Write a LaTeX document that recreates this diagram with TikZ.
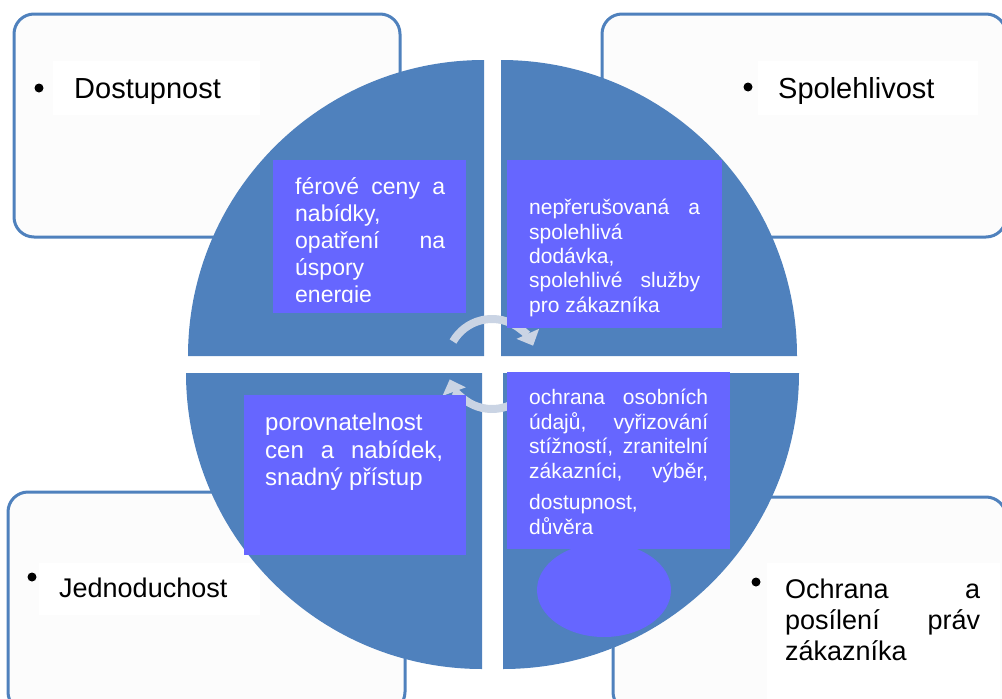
\documentclass[tikz,border=0pt]{standalone}
\usepackage{fontspec}
\setmainfont{Liberation Sans}
\usepackage{xcolor}
\usetikzlibrary{arrows.meta}
\definecolor{quadblue}{HTML}{4F81BD}
\definecolor{boxviolet}{HTML}{6666FF}
\definecolor{ringgrey}{HTML}{CAD4E4}
\definecolor{paper}{HTML}{FCFCFC}

\begin{document}
\begin{tikzpicture}[x=1pt, y=1pt,
    frame/.style={draw=quadblue, line width=3pt, fill=paper, rounded corners=20pt},
    tag/.style={fill=white},
    dot/.style={circle, fill=black, inner sep=0pt, minimum size=9pt},
    head/.style={anchor=base west, inner sep=0pt, font=\fontsize{29}{34}\selectfont},
    vtext/.style={anchor=north west, inner sep=0pt, text=white, align=justify},
    ring/.style={draw=ringgrey, line width=8pt, -{Triangle[width=24pt,length=13pt]}}]
    \useasboundingbox (0,0) rectangle (1002,-699);

    % frames behind the disc
    \draw[frame] (14,-14) rectangle (400,-237);
    \draw[frame] (602,-14) rectangle (1006,-237);
    \draw[frame] (8,-492) rectangle (405,-712);
    \draw[frame] (613,-497) rectangle (1006,-712);

    % headings
    \fill[tag] (53,-61) rectangle (260,-115);
    \node[dot] (dotA) at (39,-88) {};
    \node[head] (dostupnost) at (74,-98) {Dostupnost};
    \fill[tag] (758,-61) rectangle (978,-115);
    \node[dot] (dotB) at (748,-87) {};
    \node[head] (spolehlivost) at (778,-98) {Spolehlivost};
    \fill[tag] (39,-563) rectangle (260,-615);
    \node[dot] (dotC) at (32,-577) {};
    \node[head, font=\fontsize{27}{31}\selectfont] (jednoduchost) at (59,-597) {Jednoduchost};
    \fill[tag] (767,-563) rectangle (1000,-699);
    \node[dot] (dotD) at (756,-582) {};
    \node[anchor=north west, inner sep=0pt, align=justify, text width=195pt,
      font=\fontsize{27}{31}\selectfont] (ochrana) at (785,-579)
      {Ochrana\hfill a\\ posílení\hfill práv\\ zákazníka};

    % the four quarters
    \fill[quadblue] (484,-356) -- ++(-296,0) arc[start angle=180, end angle=90, radius=296] -- cycle;
    \fill[quadblue] (501,-356) -- ++(0,296) arc[start angle=90, end angle=0, radius=296] -- cycle;
    \fill[quadblue] (482,-373) -- ++(-296,0) arc[start angle=180, end angle=270, radius=296] -- cycle;
    \fill[quadblue] (503,-373) -- ++(0,-296) arc[start angle=270, end angle=360, radius=296] -- cycle;

    % cycle arrows
    \coordinate (hub) at (492,-364);
    \draw[ring] (hub) ++(150:45) arc[start angle=150, end angle=24, radius=45];
    \draw[ring] (hub) ++(-30:45) arc[start angle=-30, end angle=-160, radius=45];

    % violet boxes
    \fill[boxviolet] (273,-160) rectangle (466,-313);
    \fill[boxviolet] (507,-160) rectangle (722,-328);
    \fill[boxviolet] (244,-395) rectangle (466,-555);
    \fill[boxviolet] (507,-372) rectangle (730,-549);
    \fill[boxviolet] (604,-590) ellipse [x radius=67, y radius=47];

    \begin{scope}
      \clip (273,-160) rectangle (466,-302);
      \node[vtext, text width=150pt, font=\fontsize{23}{27}\selectfont] (ceny) at (295,-177)
        {férové\hfill ceny\hfill a\\ nabídky,\\ opatření\hfill na\\ úspory\\ energie};
    \end{scope}
    \node[vtext, text width=171pt, font=\fontsize{21}{24.4}\selectfont] (dodavka) at (529,-199)
      {nepřerušovaná\hfill a\\ spolehlivá\\ dodávka,\\ spolehlivé\hfill služby\\ pro zákazníka};
    \node[vtext, text width=178pt, font=\fontsize{24}{27.5}\selectfont] (srovnani) at (265,-413)
      {porovnatelnost\\ cen\hfill a\hfill nabídek,\\ snadný přístup};
    \node[vtext, text width=179pt, font=\fontsize{21}{24.5}\selectfont] (udaje) at (529,-389)
      {ochrana\hfill osobních\\ údajů,\hfill vyřizování\\ stížností,\hfill zranitelní\\
       zákazníci,\hfill výběr,\\[7pt] dostupnost,\\ důvěra};
\end{tikzpicture}
\end{document}
